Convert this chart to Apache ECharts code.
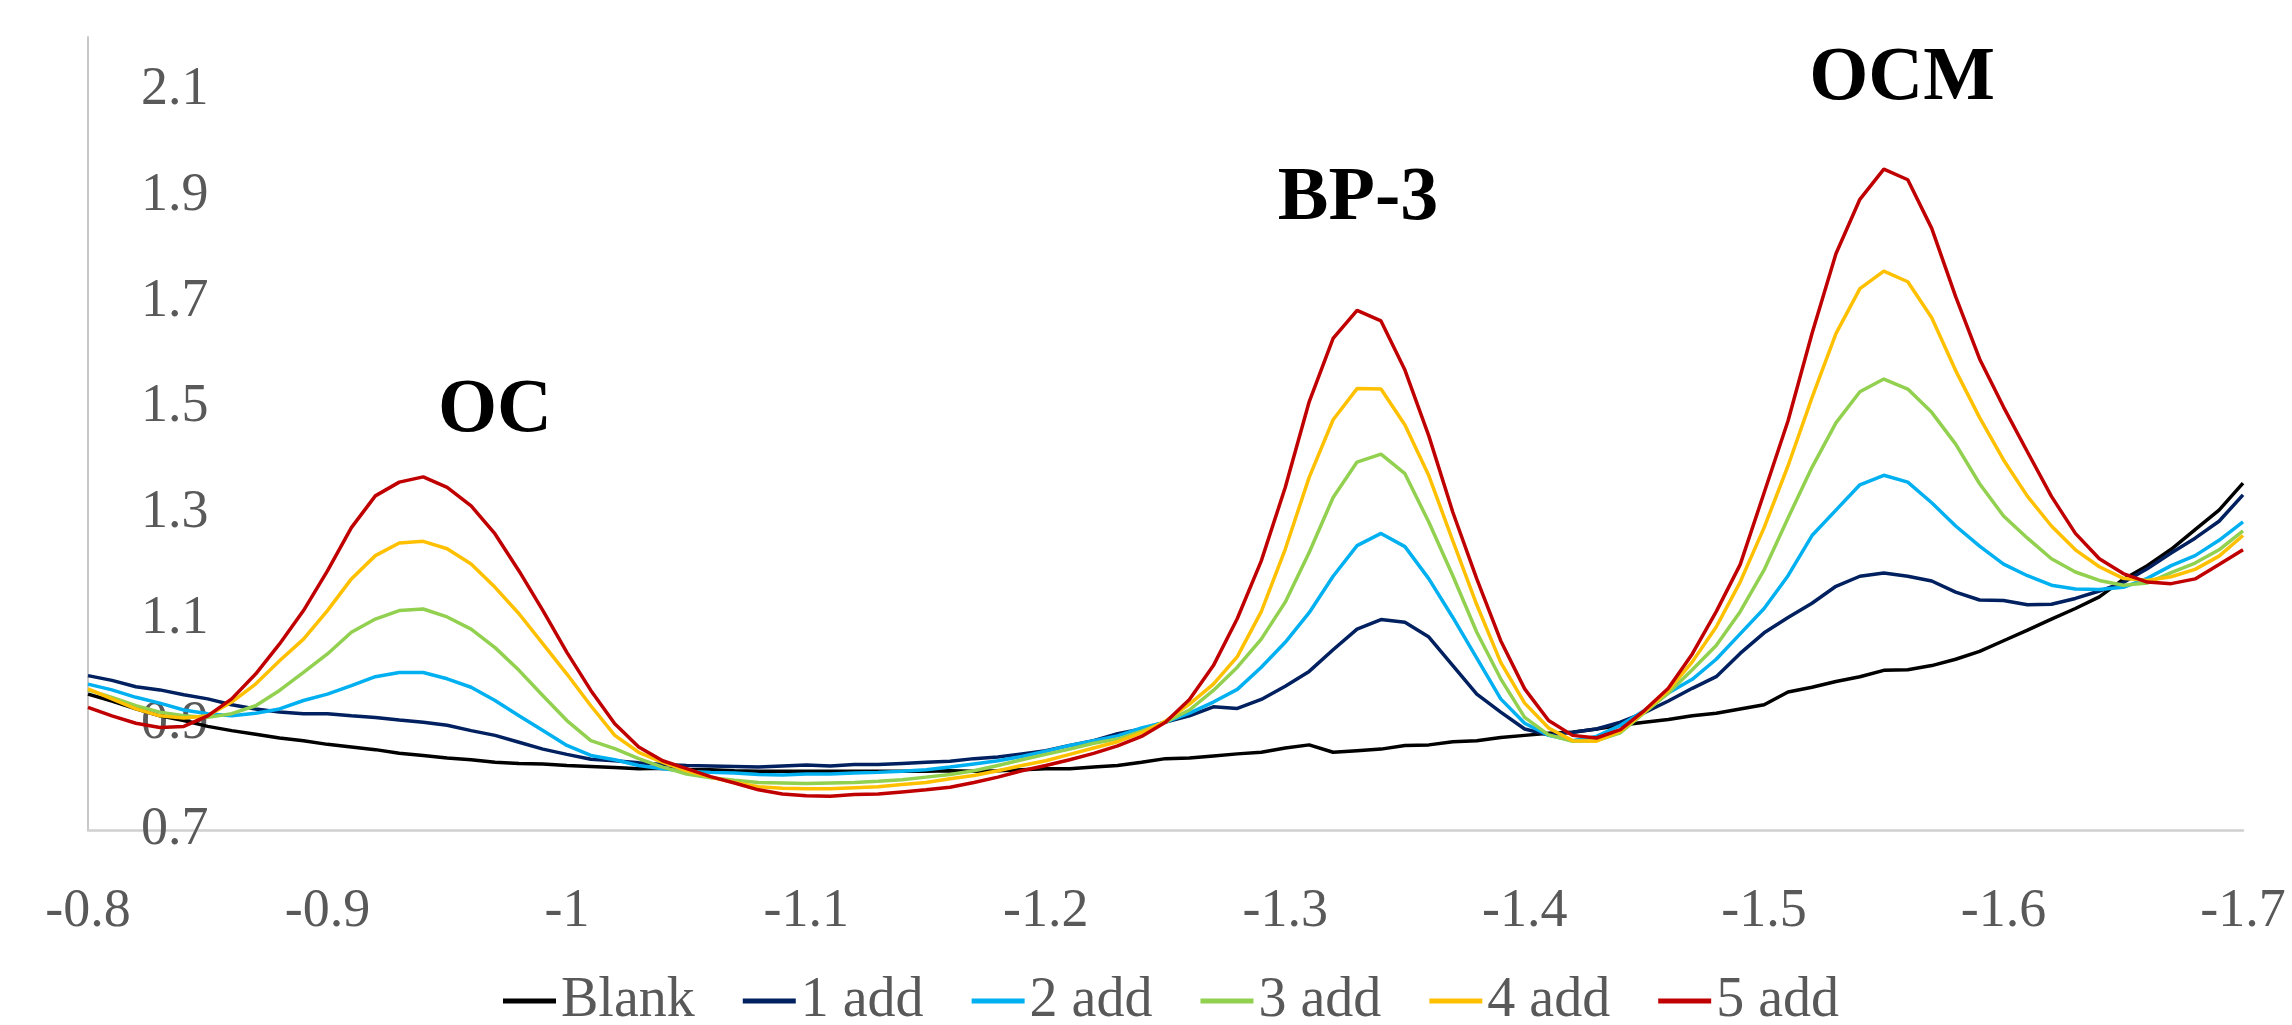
<!DOCTYPE html>
<html>
<head>
    <meta charset="utf-8">
    <title>OC / BP-3 / OCM</title>
    <style type="text/css">
        * { margin: 0; padding: 0; }
        body { background: #fff; }
        #main { width: 2292px; height: 1025px; }
    </style>
</head>
<body>
<div id="main"></div>
<script src="https://cdn.jsdelivr.net/npm/echarts@6/dist/echarts.min.js"></script>
<script type="text/javascript">
    // potential (V)
    var potential = [-0.80, -0.81, -0.82, -0.83, -0.84, -0.85, -0.86, -0.87, -0.88, -0.89,
        -0.90, -0.91, -0.92, -0.93, -0.94, -0.95, -0.96, -0.97, -0.98, -0.99,
        -1.00, -1.01, -1.02, -1.03, -1.04, -1.05, -1.06, -1.07, -1.08, -1.09,
        -1.10, -1.11, -1.12, -1.13, -1.14, -1.15, -1.16, -1.17, -1.18, -1.19,
        -1.20, -1.21, -1.22, -1.23, -1.24, -1.25, -1.26, -1.27, -1.28, -1.29,
        -1.30, -1.31, -1.32, -1.33, -1.34, -1.35, -1.36, -1.37, -1.38, -1.39,
        -1.40, -1.41, -1.42, -1.43, -1.44, -1.45, -1.46, -1.47, -1.48, -1.49,
        -1.50, -1.51, -1.52, -1.53, -1.54, -1.55, -1.56, -1.57, -1.58, -1.59,
        -1.60, -1.61, -1.62, -1.63, -1.64, -1.65, -1.66, -1.67, -1.68, -1.69, -1.70];

    var blank = [0.957, 0.944, 0.929, 0.916, 0.907, 0.896, 0.888, 0.881, 0.874, 0.869,
        0.862, 0.857, 0.852, 0.845, 0.841, 0.836, 0.833, 0.828, 0.826, 0.825,
        0.822, 0.820, 0.818, 0.816, 0.817, 0.814, 0.814, 0.812, 0.811, 0.811,
        0.811, 0.811, 0.811, 0.811, 0.811, 0.811, 0.812, 0.811, 0.812, 0.814,
        0.816, 0.816, 0.819, 0.822, 0.828, 0.835, 0.836, 0.840, 0.844, 0.847,
        0.855, 0.861, 0.847, 0.850, 0.853, 0.860, 0.861, 0.867, 0.869, 0.875,
        0.879, 0.883, 0.885, 0.891, 0.898, 0.904, 0.909, 0.916, 0.921, 0.929,
        0.937, 0.961, 0.970, 0.981, 0.990, 1.002, 1.003, 1.011, 1.023, 1.038,
        1.058, 1.078, 1.099, 1.119, 1.141, 1.174, 1.200, 1.231, 1.268, 1.305, 1.356];

    var add1 = [0.992, 0.983, 0.971, 0.965, 0.956, 0.948, 0.937, 0.929, 0.923, 0.920,
        0.920, 0.916, 0.913, 0.908, 0.904, 0.898, 0.888, 0.879, 0.866, 0.853,
        0.843, 0.834, 0.831, 0.827, 0.824, 0.822, 0.821, 0.820, 0.819, 0.821,
        0.823, 0.821, 0.824, 0.824, 0.826, 0.828, 0.830, 0.835, 0.838, 0.844,
        0.850, 0.860, 0.869, 0.882, 0.891, 0.904, 0.916, 0.933, 0.930, 0.947,
        0.972, 1.000, 1.041, 1.080, 1.098, 1.093, 1.065, 1.011, 0.957, 0.923,
        0.891, 0.880, 0.885, 0.891, 0.904, 0.922, 0.944, 0.968, 0.990, 1.034,
        1.073, 1.102, 1.129, 1.161, 1.180, 1.186, 1.180, 1.171, 1.150, 1.135,
        1.134, 1.126, 1.127, 1.138, 1.152, 1.168, 1.194, 1.224, 1.252, 1.284, 1.334];

    var add2 = [0.976, 0.965, 0.951, 0.940, 0.927, 0.920, 0.916, 0.921, 0.929, 0.945,
        0.957, 0.973, 0.990, 0.998, 0.998, 0.986, 0.970, 0.945, 0.916, 0.888,
        0.860, 0.841, 0.833, 0.822, 0.816, 0.811, 0.809, 0.808, 0.805, 0.804,
        0.806, 0.806, 0.808, 0.809, 0.811, 0.814, 0.819, 0.825, 0.831, 0.839,
        0.849, 0.860, 0.869, 0.878, 0.893, 0.904, 0.921, 0.942, 0.966, 1.008,
        1.055, 1.111, 1.180, 1.238, 1.261, 1.236, 1.175, 1.102, 1.025, 0.948,
        0.902, 0.879, 0.869, 0.877, 0.898, 0.926, 0.959, 0.985, 1.023, 1.071,
        1.119, 1.181, 1.257, 1.305, 1.353, 1.371, 1.358, 1.319, 1.275, 1.237,
        1.203, 1.181, 1.163, 1.156, 1.155, 1.159, 1.176, 1.200, 1.219, 1.248, 1.283];

    var add3 = [0.965, 0.951, 0.935, 0.923, 0.916, 0.913, 0.920, 0.935, 0.964, 0.998,
        1.033, 1.074, 1.099, 1.115, 1.118, 1.103, 1.080, 1.045, 1.002, 0.954,
        0.907, 0.869, 0.854, 0.835, 0.819, 0.806, 0.799, 0.794, 0.790, 0.789,
        0.788, 0.789, 0.790, 0.792, 0.795, 0.800, 0.805, 0.812, 0.822, 0.833,
        0.843, 0.853, 0.864, 0.872, 0.887, 0.904, 0.927, 0.964, 1.008, 1.061,
        1.131, 1.225, 1.329, 1.396, 1.411, 1.374, 1.282, 1.181, 1.074, 0.986,
        0.913, 0.880, 0.868, 0.869, 0.884, 0.922, 0.959, 1.003, 1.049, 1.113,
        1.192, 1.290, 1.386, 1.470, 1.529, 1.553, 1.534, 1.490, 1.430, 1.355,
        1.294, 1.252, 1.213, 1.188, 1.172, 1.163, 1.167, 1.187, 1.205, 1.230, 1.266];

    var add4 = [0.967, 0.948, 0.929, 0.916, 0.912, 0.916, 0.942, 0.976, 1.020, 1.061,
        1.115, 1.175, 1.219, 1.243, 1.246, 1.232, 1.203, 1.159, 1.109, 1.052,
        0.995, 0.935, 0.879, 0.847, 0.828, 0.812, 0.800, 0.790, 0.782, 0.779,
        0.778, 0.778, 0.780, 0.782, 0.786, 0.790, 0.797, 0.803, 0.812, 0.822,
        0.831, 0.843, 0.855, 0.867, 0.884, 0.906, 0.938, 0.976, 1.028, 1.113,
        1.231, 1.367, 1.476, 1.535, 1.534, 1.466, 1.370, 1.247, 1.126, 1.017,
        0.940, 0.893, 0.869, 0.868, 0.887, 0.924, 0.964, 1.018, 1.084, 1.169,
        1.272, 1.389, 1.518, 1.639, 1.724, 1.757, 1.737, 1.669, 1.569, 1.480,
        1.400, 1.331, 1.275, 1.230, 1.198, 1.176, 1.172, 1.179, 1.193, 1.218, 1.257];

    var add5 = [0.932, 0.916, 0.902, 0.894, 0.896, 0.916, 0.948, 0.995, 1.052, 1.115,
        1.190, 1.272, 1.332, 1.358, 1.368, 1.348, 1.313, 1.260, 1.190, 1.115,
        1.036, 0.964, 0.901, 0.857, 0.831, 0.816, 0.801, 0.789, 0.776, 0.768,
        0.765, 0.764, 0.767, 0.768, 0.772, 0.776, 0.781, 0.790, 0.800, 0.812,
        0.822, 0.833, 0.845, 0.859, 0.877, 0.904, 0.947, 1.011, 1.100, 1.209,
        1.348, 1.510, 1.630, 1.683, 1.663, 1.570, 1.445, 1.301, 1.175, 1.058,
        0.967, 0.907, 0.879, 0.874, 0.890, 0.926, 0.968, 1.033, 1.113, 1.202,
        1.338, 1.474, 1.639, 1.790, 1.893, 1.950, 1.930, 1.838, 1.709, 1.591,
        1.500, 1.415, 1.331, 1.261, 1.213, 1.185, 1.169, 1.166, 1.175, 1.202, 1.230];

    var seriesNames = ['Blank', '1 add', '2 add', '3 add', '4 add', '5 add'];
    var seriesValues = [blank, add1, add2, add3, add4, add5];
    var seriesColors = ['#000000', '#002060', '#00B0F0', '#92D050', '#FFC000', '#C00000'];

    var peakLabels = ['OC', 'BP-3', 'OCM'];

    var myChart = echarts.init(document.getElementById('main'));

    var serif = '"Liberation Serif", "Times New Roman", serif';

    var series = [];
    for (var s = 0; s < seriesNames.length; s++) {
        var pts = [];
        for (var i = 0; i < potential.length; i++) {
            pts.push([potential[i], seriesValues[s][i]]);
        }
        series.push({
            name: seriesNames[s],
            type: 'line',
            showSymbol: false,
            symbol: 'none',
            color: seriesColors[s],
            itemStyle: { color: seriesColors[s] },
            lineStyle: { width: 3.5, color: seriesColors[s] },
            data: pts
        });
    }

    var option = {
        animation: false,
        backgroundColor: '#ffffff',
        grid: {
            left: 88,
            right: 49,
            top: 37,
            bottom: 195,
            containLabel: false,
            outerBoundsMode: 'none'
        },
        legend: {
            data: seriesNames,
            left: 498,
            top: 968,
            icon: 'rect',
            itemWidth: 53,
            itemHeight: 5,
            itemGap: 48,
            textStyle: {
                fontFamily: serif,
                fontSize: 56,
                color: '#595959'
            }
        },
        xAxis: {
            type: 'value',
            inverse: true,
            min: -1.7,
            max: -0.8,
            interval: 0.1,
            axisLine: { onZero: false, lineStyle: { color: '#d0d0d0', width: 2.5 } },
            axisTick: { show: false },
            splitLine: { show: false },
            axisLabel: {
                margin: 55,
                fontFamily: serif,
                fontSize: 54,
                color: '#595959'
            }
        },
        yAxis: {
            type: 'value',
            min: 0.7,
            max: 2.2,
            interval: 0.2,
            axisLine: { show: true, onZero: false, lineStyle: { color: '#c8c8c8', width: 2 } },
            axisTick: { show: false },
            splitLine: { show: false },
            axisLabel: {
                inside: true,
                margin: 53,
                showMaxLabel: false,
                fontFamily: serif,
                fontSize: 54,
                color: '#595959'
            }
        },
        graphic: [
            { type: 'text', x: 495, y: 411, style: { text: peakLabels[0], font: 'bold 76px ' + serif, fill: '#000', align: 'center', verticalAlign: 'middle' } },
            { type: 'text', x: 1358, y: 199, style: { text: peakLabels[1], font: 'bold 76px ' + serif, fill: '#000', align: 'center', verticalAlign: 'middle' } },
            { type: 'text', x: 1902, y: 79, style: { text: peakLabels[2], font: 'bold 76px ' + serif, fill: '#000', align: 'center', verticalAlign: 'middle' } }
        ],
        series: series
    };

    myChart.setOption(option);
</script>
</body>
</html>
